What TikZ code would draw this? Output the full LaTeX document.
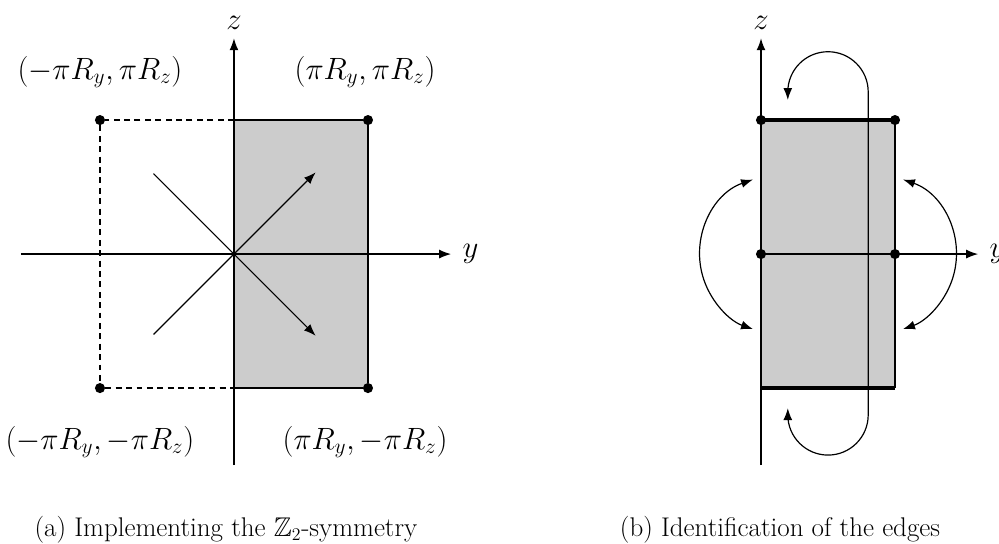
\documentclass[tikz,border=0pt]{standalone}
\usepackage{amssymb}
\usetikzlibrary{arrows.meta}
\tikzset{
  orb axis/.style={line width=0.8pt,-{Latex[length=8pt,width=6pt]}},
  orb line/.style={line width=0.8pt},
  orb dash/.style={line width=0.8pt,dash pattern=on 4pt off 3pt},
  orb fill/.style={fill=black!20},
  orb edge/.style={line width=2.7pt},
  orb dot/.style={circle,fill=black,minimum size=6.8pt,inner sep=0pt},
  orb turn/.style={line width=0.8pt,{Latex[length=8pt,width=6pt]}-{Latex[length=8pt,width=6pt]}},
  orb label/.style={font=\fontsize{20}{24}\selectfont},
  orb caption/.style={font=\fontsize{18.2}{22}\selectfont}
}

\begin{document}
\begin{tikzpicture}[x=3.171cm,y=3.171cm]
  \useasboundingbox (-1.746,-2.157) rectangle (5.709,1.896);

  % (a) the Z2 orbifold
  \fill[orb fill] (0,-1) rectangle (1,1);
  \node[orb dot] (app) at (1,1) {};
  \node[orb dot] (apm) at (1,-1) {};
  \node[orb dot] (amp) at (-1,1) {};
  \node[orb dot] (amm) at (-1,-1) {};
  \coordinate (atop) at (0,1);
  \coordinate (abot) at (0,-1);
  \draw[orb line] (atop) -- (app) -- (apm) -- (abot);
  \draw[orb dash] (atop) -- (amp) -- (amm) -- (abot);
  \draw[orb axis] (-1.59,0) -- (1.62,0) node[right=4pt,orb label] (ay) {$y$};
  \draw[orb axis] (0,-1.575) -- (0,1.61) node[above=2pt,orb label] (az) {$z$};
  \coordinate (ao) at (0,0);
  \coordinate (aul) at (-0.6,0.6);
  \coordinate (all) at (-0.6,-0.6);
  \coordinate (aur) at (0.61,0.61);
  \coordinate (alr) at (0.61,-0.61);
  \draw[orb line] (aul) -- (ao);
  \draw[orb line] (all) -- (ao);
  \draw[orb axis] (ao) -- (aur);
  \draw[orb axis] (ao) -- (alr);
  \node[orb label] (lmp) at (-1.0,1.358) {$(-\pi R_y,\pi R_z)$};
  \node[orb label] (lpp) at (0.978,1.358) {$(\pi R_y,\pi R_z)$};
  \node[orb label] (lmm) at (-1.0,-1.403) {$(-\pi R_y,-\pi R_z)$};
  \node[orb label] (lpm) at (0.978,-1.403) {$(\pi R_y,-\pi R_z)$};
  \node[orb caption] (capa) at (-0.06,-2.06) {(a) Implementing the $\mathbb{Z}_2$-symmetry};

  % (b) identification of the edges
  \begin{scope}[shift={(3.933,0)}]
    \fill[orb fill] (0,-1) rectangle (1,1);
    \draw[orb line] (1,1) -- (1,-1);
    \draw[orb edge] (0,1) -- (1,1);
    \draw[orb edge] (0,-1) -- (1,-1);
    \draw[orb axis] (0,0) -- (1.62,0) node[right=4pt,orb label] (by) {$y$};
    \draw[orb axis] (0,-1.575) -- (0,1.61) node[above=2pt,orb label] (bz) {$z$};
    \node[orb dot] (btl) at (0,1) {};
    \node[orb dot] (btr) at (1,1) {};
    \node[orb dot] (bml) at (0,0) {};
    \node[orb dot] (bmr) at (1,0) {};
    \draw[orb turn] (0.2,-1.15) -- (0.2,-1.2) arc[start angle=180,end angle=360,radius=0.3]
      -- (0.8,1.21) arc[start angle=0,end angle=180,radius=0.3] -- (0.2,1.15);
    \draw[orb turn] (-0.06,0.556) arc[start angle=109,end angle=251,radius=0.59];
    \draw[orb turn] (1.06,0.556) arc[start angle=71,end angle=-71,radius=0.59];
  \end{scope}
  \node[orb caption] (capb) at (4.075,-2.06) {(b) Identification of the edges};
\end{tikzpicture}
\end{document}
